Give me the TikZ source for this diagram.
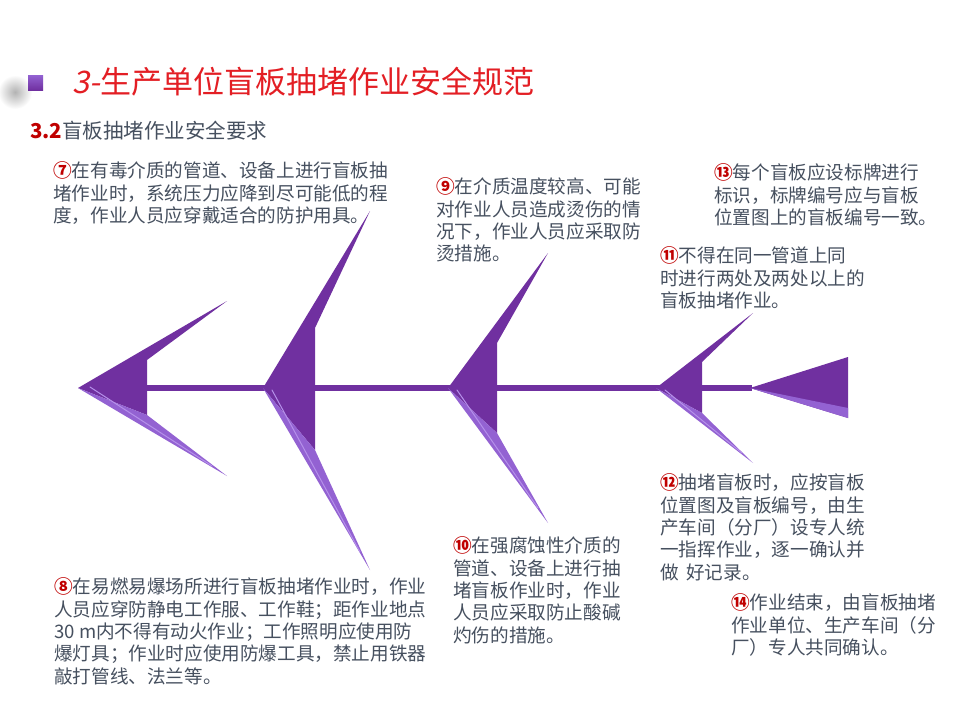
\documentclass[tikz,border=0pt]{standalone}
\usepackage{fontspec}
\setmainfont{Noto Sans CJK SC}
\newfontfamily\slantfont[FakeSlant=0.2]{Noto Sans CJK SC}

\definecolor{fishpurple}{HTML}{7030A0}
\definecolor{fishlight}{HTML}{9362D2}
\definecolor{fishhi}{HTML}{B590EA}
\definecolor{notegray}{HTML}{46505F}
\definecolor{numred}{HTML}{C00000}
\definecolor{titlered}{HTML}{E31E24}

\newcommand{\cnum}[1]{\textcolor{numred}{\bfseries #1}}

\begin{document}
\begin{tikzpicture}[x=1pt,y=-1pt,
	note/.style={anchor=north west,inner sep=0pt,align=left,text=notegray,
		font=\fontsize{18.6}{22.4}\selectfont},
	bonedark/.style={fill=fishpurple},
	bonelight/.style={fill=fishlight},
	bonehi/.style={draw=fishhi,line width=1pt,line cap=round}]
			\useasboundingbox (0,0) rectangle (960,720);
			\fill[white] (0,0) rectangle (960,720);
			% heading with its bullet
			\shade[inner color=black!30,outer color=white] (15,92) circle (17);
			\shade[top color=fishlight,bottom color=fishpurple] (28,75) rectangle (43,90);
			\node[anchor=west,inner sep=0pt,text=titlered,font=\fontsize{31}{31}\selectfont]
					(title) at (72,82) {{\slantfont 3-}生产单位盲板抽堵作业安全规范};
			\node[anchor=west,inner sep=0pt,text=notegray,font=\fontsize{20.5}{20.5}\selectfont]
					(subtitle) at (30,131) {\textcolor{numred}{\bfseries 3.2}盲板抽堵作业安全要求};
			% the spine
			\fill[fishpurple] (147,385) rectangle (752,391);
			% head
			\fill[bonedark]  (78,388) -- (227,301) -- (147,360) -- (147,415) -- cycle;
			\fill[bonelight] (78,388) -- (147,415) -- (227,476) -- cycle;
			\draw[bonehi]    (90,387) -- (212,466);
			% first bone
			\fill[bonedark]  (263,388) -- (370,211) -- (315,328) -- (315,450) -- cycle;
			\fill[bonelight] (263,388) -- (315,450) -- (370,570) -- cycle;
			\draw[bonehi]    (272,390) -- (360,552);
			% second bone
			\fill[bonedark]  (448,388) -- (548,253) -- (497,343) -- (497,433) -- cycle;
			\fill[bonelight] (448,388) -- (497,433) -- (548,523) -- cycle;
			\draw[bonehi]    (457,390) -- (538,508);
			% third bone
			\fill[bonedark]  (656,388) -- (753,313) -- (702,362) -- (702,413) -- cycle;
			\fill[bonelight] (656,388) -- (702,413) -- (753,463) -- cycle;
			\draw[bonehi]    (665,390) -- (742,453);
			% tail
			\fill[bonedark]  (750,388) -- (848,357) -- (848,418) -- cycle;
			\fill[bonelight] (750,388) -- (848,408) -- (848,418) -- cycle;
			% the rules
			\node[note] (r7) at (53,161.5)
					{\cnum{⑦}在有毒介质的管道、设备上进行盲板抽\\
					 堵作业时，系统压力应降到尽可能低的程\\
					 度，作业人员应穿戴适合的防护用具。};
			\node[note] (r8) at (54,577.5)
					{\cnum{⑧}在易燃易爆场所进行盲板抽堵作业时，作业\\
					 人员应穿防静电工作服、工作鞋；距作业地点\\
					 30 m内不得有动火作业；工作照明应使用防\\
					 爆灯具；作业时应使用防爆工具，禁止用铁器\\
					 敲打管线、法兰等。};
			\node[note] (r9) at (436,177.5)
					{\cnum{⑨}在介质温度较高、可能\\
					 对作业人员造成烫伤的情\\
					 况下，作业人员应采取防\\
					 烫措施。};
			\node[note] (r10) at (453,536.5)
					{\cnum{⑩}在强腐蚀性介质的\\
					 管道、设备上进行抽\\
					 堵盲板作业时，作业\\
					 人员应采取防止酸碱\\
					 灼伤的措施。};
			\node[note] (r11) at (660,246.5)
					{\cnum{⑪}不得在同一管道上同\\
					 时进行两处及两处以上的\\
					 盲板抽堵作业。};
			\node[note] (r12) at (660,473.5)
					{\cnum{⑫}抽堵盲板时，应按盲板\\
					 位置图及盲板编号，由生\\
					 产车间（分厂）设专人统\\
					 一指挥作业，逐一确认并\\
					 做\hspace{0.4em}好记录。};
			\node[note] (r13) at (714,163.5)
					{\cnum{⑬}每个盲板应设标牌进行\\
					 标识，标牌编号应与盲板\\
					 位置图上的盲板编号一致。};
			\node[note] (r14) at (731,593.5)
					{\cnum{⑭}作业结束，由盲板抽堵\\
					 作业单位、生产车间（分\\
					 厂）专人共同确认。};
		\end{tikzpicture}
\end{document}
